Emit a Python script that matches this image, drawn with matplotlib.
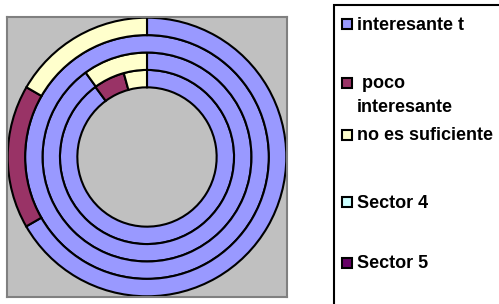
import matplotlib
matplotlib.use("Agg")
import matplotlib.pyplot as plt
from matplotlib.patches import Rectangle

# Doughnut rings, innermost first (Excel draws series 1 in the middle)
categories = ["interesante t", " poco\ninteresante", "no es suficiente", "Sector 4", "Sector 5"]
interesante = [89.9, 90.0, 100.0, 66.7]
poco = [5.8, 0.0, 0.0, 16.65]
suficiente = [4.3, 10.0, 0.0, 16.65]
colors = ["#9999FF", "#993366", "#FFFFCC", "#CCFFFF", "#660066"]

W, H = 499, 304
fig = plt.figure(figsize=(W / 100, H / 100), dpi=100)

# plot area (gray square)
ax = fig.add_axes([7 / W, 1 - 297 / H, 280 / W, 280 / H])
ax.set_facecolor("#C0C0C0")

hole = 0.5
n = len(interesante)
width = (1 - hole) / n
for i in range(n):
    vals = [interesante[i], poco[i], suficiente[i]]
    cols = [c for v, c in zip(vals, colors) if v > 0]
    vals = [v for v in vals if v > 0]
    ax.pie(vals, radius=hole + width * (i + 1), colors=cols,
           startangle=90, counterclock=False,
           wedgeprops=dict(width=width, edgecolor="black", linewidth=1.5))
ax.set_xlim(-1.005, 1.005)
ax.set_ylim(-1.005, 1.005)
ax.set_aspect("equal")
ax.set_xticks([])
ax.set_yticks([])
ax.set_frame_on(True)
for s in ax.spines.values():
    s.set_visible(True)
    s.set_color("#808080")
    s.set_linewidth(1.5)

# legend box, cut off at the right and bottom like the original
fig.patches.append(Rectangle((334 / W, -0.1), 0.5, 1 - 5 / H + 0.1,
                             transform=fig.transFigure, fill=False,
                             edgecolor="black", linewidth=1.5))
ys = [24, 83, 135, 202, 263]
for lab, col, y in zip(categories, colors, ys):
    fig.patches.append(Rectangle((342 / W, 1 - (y + 5) / H), 10 / W, 10 / H,
                                 transform=fig.transFigure, facecolor=col,
                                 edgecolor="black", linewidth=1.5))
    fig.text(357 / W, 1 - (y - 7.5) / H, lab, fontsize=13, fontweight="bold",
             family="Liberation Sans", va="top", ha="left", linespacing=1.5)

fig.savefig("out.png", dpi=100)
